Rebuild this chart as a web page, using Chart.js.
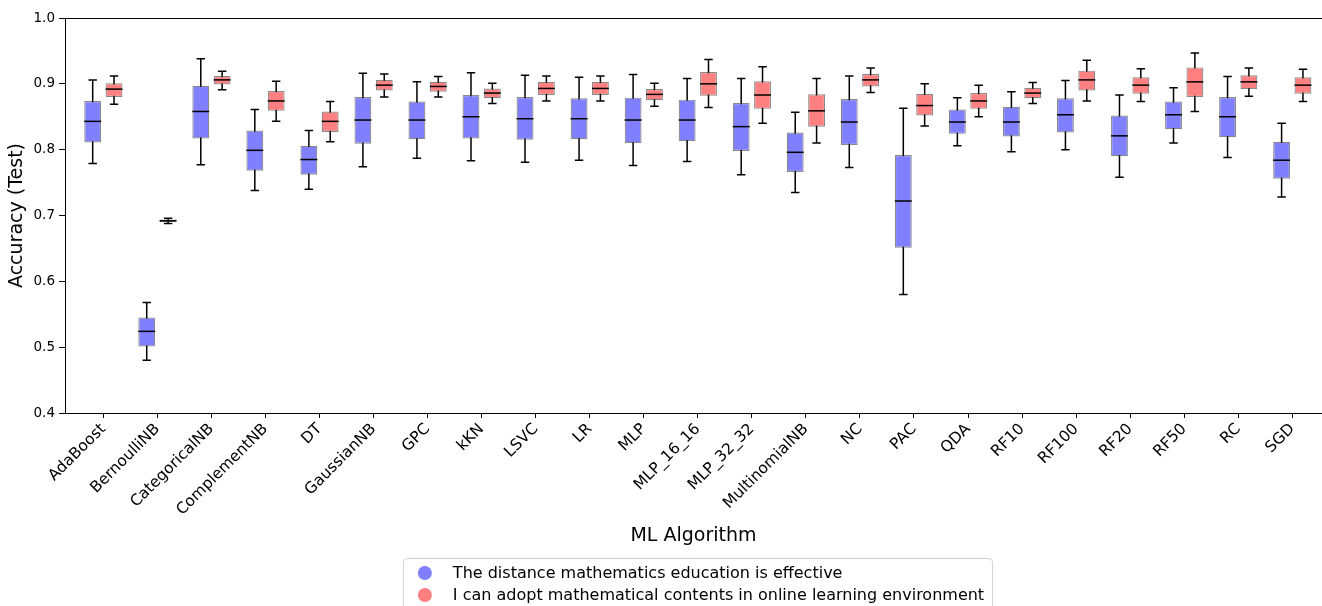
<!DOCTYPE html>
<html>
<head>
<meta charset="utf-8">
<script src="https://cdn.jsdelivr.net/npm/chart.js@4/dist/chart.umd.min.js"></script>
<style>
  html, body { margin: 0; padding: 0; background: #fff; }
</style>
</head>
<body>
<canvas id="chart" width="1322" height="606"></canvas>
<script>
const algorithms = ['AdaBoost', 'BernoulliNB', 'CategoricalNB', 'ComplementNB', 'DT', 'GaussianNB', 'GPC', 'kKN',
    'LSVC', 'LR', 'MLP', 'MLP_16_16', 'MLP_32_32', 'MultinomialNB', 'NC', 'PAC', 'QDA', 'RF10', 'RF100', 'RF20',
    'RF50', 'RC', 'SGD'];

// "The distance mathematics education is effective"
const effMin = [0.779, 0.480, 0.777, 0.738, 0.740, 0.774, 0.787, 0.783, 0.781, 0.784, 0.776, 0.782, 0.762, 0.735, 0.773, 0.580, 0.806, 0.797, 0.800, 0.758, 0.810, 0.788, 0.728];
const effQ1  = [0.811, 0.501, 0.817, 0.768, 0.762, 0.809, 0.816, 0.817, 0.815, 0.816, 0.810, 0.813, 0.798, 0.766, 0.807, 0.651, 0.824, 0.820, 0.826, 0.790, 0.831, 0.819, 0.756];
const effMed = [0.843, 0.524, 0.858, 0.799, 0.785, 0.845, 0.845, 0.850, 0.847, 0.847, 0.845, 0.845, 0.835, 0.796, 0.842, 0.722, 0.842, 0.842, 0.853, 0.821, 0.853, 0.850, 0.784];
const effQ3  = [0.874, 0.545, 0.897, 0.829, 0.806, 0.880, 0.873, 0.883, 0.880, 0.878, 0.879, 0.876, 0.871, 0.826, 0.877, 0.792, 0.861, 0.865, 0.878, 0.852, 0.873, 0.880, 0.812];
const effMax = [0.906, 0.568, 0.938, 0.861, 0.829, 0.916, 0.903, 0.917, 0.913, 0.910, 0.914, 0.908, 0.908, 0.857, 0.912, 0.863, 0.879, 0.888, 0.905, 0.883, 0.894, 0.911, 0.840];

// "I can adopt mathematical contents in online learning environment"
const adoMin = [0.869, 0.688, 0.891, 0.843, 0.812, 0.880, 0.880, 0.870, 0.874, 0.874, 0.866, 0.864, 0.840, 0.810, 0.887, 0.836, 0.850, 0.870, 0.874, 0.873, 0.858, 0.881, 0.873];
const adoQ1  = [0.880, 0.690, 0.899, 0.859, 0.827, 0.890, 0.888, 0.878, 0.883, 0.883, 0.875, 0.882, 0.862, 0.835, 0.896, 0.852, 0.862, 0.878, 0.890, 0.885, 0.880, 0.892, 0.885];
const adoMed = [0.892, 0.692, 0.906, 0.874, 0.843, 0.898, 0.896, 0.886, 0.893, 0.893, 0.884, 0.900, 0.883, 0.859, 0.906, 0.867, 0.874, 0.886, 0.906, 0.898, 0.903, 0.903, 0.898];
const adoQ3  = [0.901, 0.694, 0.912, 0.889, 0.858, 0.906, 0.903, 0.893, 0.903, 0.903, 0.892, 0.918, 0.904, 0.884, 0.915, 0.885, 0.886, 0.894, 0.920, 0.910, 0.925, 0.913, 0.910];
const adoMax = [0.912, 0.696, 0.919, 0.904, 0.873, 0.915, 0.911, 0.901, 0.912, 0.912, 0.901, 0.937, 0.926, 0.908, 0.924, 0.900, 0.898, 0.902, 0.936, 0.923, 0.947, 0.924, 0.922];

const FONT = '"DejaVu Sans", sans-serif';

// whiskers go behind the boxes, medians on top, then frame + legend
const boxParts = {
    id: 'boxParts',
    beforeDatasetsDraw(chart) {
        const ctx = chart.ctx, y = chart.scales.y;
        chart.data.datasets.forEach((ds, d) => {
            chart.getDatasetMeta(d).data.forEach((bar, i) => {
                const top = y.getPixelForValue(ds.whiskerMax[i]);
                const bot = y.getPixelForValue(ds.whiskerMin[i]);
                const cap = bar.width / 4;
                ctx.save();
                ctx.strokeStyle = '#000';
                ctx.lineWidth = 1.5;
                ctx.beginPath();
                ctx.moveTo(bar.x, top); ctx.lineTo(bar.x, bot);
                ctx.moveTo(bar.x - cap, top); ctx.lineTo(bar.x + cap, top);
                ctx.moveTo(bar.x - cap, bot); ctx.lineTo(bar.x + cap, bot);
                ctx.stroke();
                ctx.restore();
            });
        });
    },
    afterDatasetsDraw(chart) {
        const ctx = chart.ctx, y = chart.scales.y;
        chart.data.datasets.forEach((ds, d) => {
            chart.getDatasetMeta(d).data.forEach((bar, i) => {
                const py = y.getPixelForValue(ds.median[i]);
                ctx.save();
                ctx.strokeStyle = '#000';
                ctx.lineWidth = 1.5;
                ctx.beginPath();
                ctx.moveTo(bar.x - bar.width / 2, py);
                ctx.lineTo(bar.x + bar.width / 2, py);
                ctx.stroke();
                ctx.restore();
            });
        });
    },
    afterDraw(chart) {
        const ctx = chart.ctx, a = chart.chartArea;
        ctx.save();
        ctx.strokeStyle = '#000';
        ctx.lineWidth = 1;
        ctx.strokeRect(a.left + 0.5, a.top + 0.5, a.right - a.left + 2, a.bottom - a.top);

        // legend box
        ctx.font = '16px ' + FONT;
        const labels = chart.data.datasets.map(ds => ds.label);
        const textW = Math.max(...labels.map(t => ctx.measureText(t).width));
        const boxW = textW + 58;
        const cx = (a.left + a.right) / 2 + 4;
        const x0 = cx - boxW / 2, y0 = 558;
        ctx.fillStyle = '#fff';
        ctx.strokeStyle = '#d0d0d0';
        ctx.beginPath();
        ctx.roundRect(x0 + 0.5, y0 + 0.5, boxW, 60, 4);
        ctx.fill();
        ctx.stroke();
        chart.data.datasets.forEach((ds, d) => {
            const ly = y0 + 15 + d * 22;
            ctx.fillStyle = ds.legendColor;
            ctx.beginPath();
            ctx.arc(x0 + 22, ly, 7, 0, Math.PI * 2);
            ctx.fill();
            ctx.fillStyle = '#000';
            ctx.textBaseline = 'middle';
            ctx.fillText(ds.label, x0 + 50, ly + 1);
        });
        ctx.restore();
    }
};

const toBars = (q1, q3) => algorithms.map((_, i) => ({ x: i + 1, y: [q1[i], q3[i]] }));

new Chart(document.getElementById('chart'), {
    type: 'bar',
    data: {
        datasets: [
            {
                label: 'The distance mathematics education is effective',
                data: toBars(effQ1, effQ3),
                whiskerMin: effMin, whiskerMax: effMax, median: effMed,
                backgroundColor: '#8080ff',
                legendColor: 'rgba(0, 0, 255, 0.5)',
                borderColor: 'rgba(60, 60, 60, 0.6)',
                borderWidth: 1.2,
                borderSkipped: false,
                categoryPercentage: 0.79,
                barPercentage: 0.79
            },
            {
                label: 'I can adopt mathematical contents in online learning environment',
                data: toBars(adoQ1, adoQ3),
                whiskerMin: adoMin, whiskerMax: adoMax, median: adoMed,
                backgroundColor: '#ff8080',
                legendColor: 'rgba(255, 0, 0, 0.5)',
                borderColor: 'rgba(60, 60, 60, 0.6)',
                borderWidth: 1.2,
                borderSkipped: false,
                categoryPercentage: 0.79,
                barPercentage: 0.79
            }
        ]
    },
    options: {
        responsive: false,
        animation: false,
        layout: { padding: { top: 18, right: 0, bottom: 58, left: 0 } },
        plugins: {
            legend: { display: false },
            tooltip: { enabled: false }
        },
        scales: {
            x: {
                type: 'linear',
                offset: false,
                min: 0.29,
                max: 23.55,
                afterBuildTicks: (scale) => { scale.ticks = algorithms.map((_, i) => ({ value: i + 1 })); },
                afterFit: (scale) => { scale.height = 135; },
                ticks: {
                    autoSkip: false,
                    minRotation: 45,
                    maxRotation: 45,
                    color: '#000',
                    font: { family: FONT, size: 15.5 },
                    padding: 2,
                    callback: (v) => algorithms[v - 1]
                },
                grid: { offset: false, drawOnChartArea: false, drawTicks: true, tickLength: 5, color: '#000' },
                border: { color: '#000', width: 1 },
                title: {
                    display: true,
                    text: 'ML Algorithm',
                    color: '#000',
                    font: { family: FONT, size: 19 },
                    padding: { top: 0, bottom: 1 }
                }
            },
            y: {
                min: 0.4,
                max: 1.0,
                afterFit: (scale) => { scale.width = 65; },
                ticks: {
                    stepSize: 0.1,
                    color: '#000',
                    font: { family: FONT, size: 13.5 },
                    padding: 4,
                    callback: (v) => v.toFixed(1)
                },
                grid: { drawOnChartArea: false, drawTicks: true, tickLength: 6, color: '#000' },
                border: { color: '#000', width: 1 },
                title: {
                    display: true,
                    text: 'Accuracy (Test)',
                    color: '#000',
                    font: { family: FONT, size: 19 },
                    padding: { top: 6, bottom: 0 }
                }
            }
        }
    },
    plugins: [boxParts]
});
</script>
</body>
</html>
